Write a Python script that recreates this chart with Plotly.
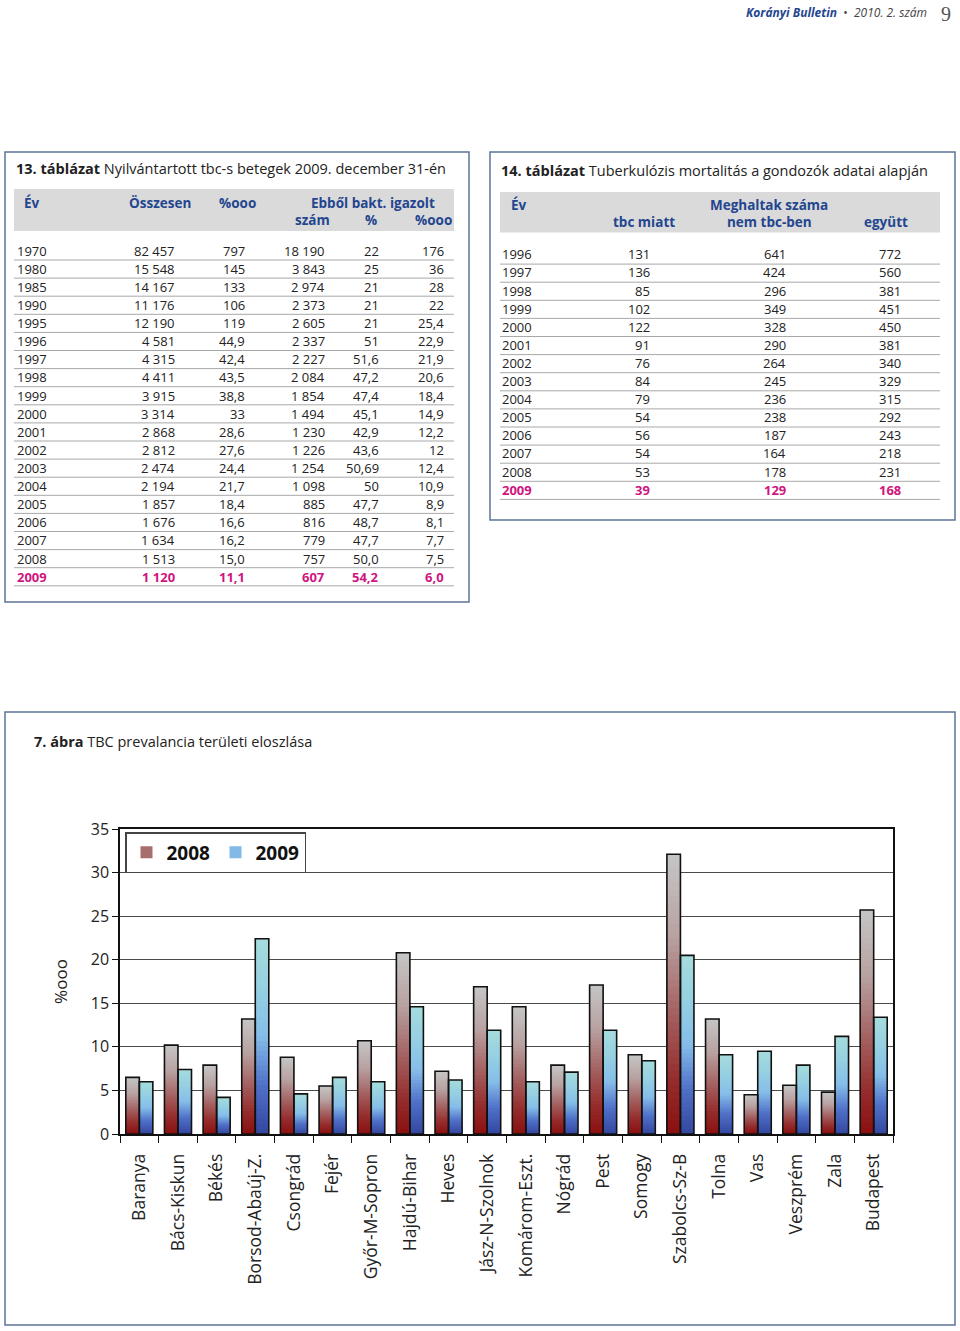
import plotly.graph_objects as go

# ---------------- data ----------------
counties = ["Baranya", "Bács-Kiskun", "Békés", "Borsod-Abaúj-Z.", "Csongrád", "Fejér",
            "Győr-M-Sopron", "Hajdú-Bihar", "Heves", "Jász-N-Szolnok", "Komárom-Eszt.",
            "Nógrád", "Pest", "Somogy", "Szabolcs-Sz-B", "Tolna", "Vas", "Veszprém",
            "Zala", "Budapest"]
prev_2008 = [6.5, 10.2, 7.9, 13.2, 8.8, 5.5, 10.7, 20.8, 7.2, 16.9, 14.6,
             7.9, 17.1, 9.1, 32.1, 13.2, 4.5, 5.6, 4.8, 25.7]
prev_2009 = [6.0, 7.4, 4.2, 22.4, 4.6, 6.5, 6.0, 14.6, 6.2, 11.9, 6.0,
             7.1, 11.9, 8.4, 20.5, 9.1, 9.5, 7.9, 11.2, 13.4]
y_ticks = [0, 5, 10, 15, 20, 25, 30, 35]

t13_years = ["1970", "1980", "1985", "1990", "1995", "1996", "1997", "1998", "1999", "2000",
             "2001", "2002", "2003", "2004", "2005", "2006", "2007", "2008", "2009"]
t13_total = ["82 457", "15 548", "14 167", "11 176", "12 190", "4 581", "4 315", "4 411",
             "3 915", "3 314", "2 868", "2 812", "2 474", "2 194", "1 857", "1 676",
             "1 634", "1 513", "1 120"]
t13_rate = ["797", "145", "133", "106", "119", "44,9", "42,4", "43,5", "38,8", "33",
            "28,6", "27,6", "24,4", "21,7", "18,4", "16,6", "16,2", "15,0", "11,1"]
t13_bact_n = ["18 190", "3 843", "2 974", "2 373", "2 605", "2 337", "2 227", "2 084",
              "1 854", "1 494", "1 230", "1 226", "1 254", "1 098", "885", "816", "779",
              "757", "607"]
t13_bact_pct = ["22", "25", "21", "21", "21", "51", "51,6", "47,2", "47,4", "45,1", "42,9",
                "43,6", "50,69", "50", "47,7", "48,7", "47,7", "50,0", "54,2"]
t13_bact_rate = ["176", "36", "28", "22", "25,4", "22,9", "21,9", "20,6", "18,4", "14,9",
                 "12,2", "12", "12,4", "10,9", "8,9", "8,1", "7,7", "7,5", "6,0"]

t14_years = ["1996", "1997", "1998", "1999", "2000", "2001", "2002", "2003", "2004",
             "2005", "2006", "2007", "2008", "2009"]
t14_tbc = [131, 136, 85, 102, 122, 91, 76, 84, 79, 54, 56, 54, 53, 39]
t14_other = [641, 424, 296, 349, 328, 290, 264, 245, 236, 238, 187, 164, 178, 129]
t14_total = [772, 560, 381, 451, 450, 381, 340, 329, 315, 292, 243, 218, 231, 168]

# ---------------- style ----------------
W, H = 960, 1331
FONT = "Open Sans"
TXT = "#222222"
BLUE = "#23468f"
MAGENTA = "#d0157f"
PANEL = "#5d7496"
HEADBG = "#dadada"
ROWLINE = "#a8a8a8"

grad_2008 = [(0.0, (139, 15, 15)), (0.2, (150, 46, 46)), (0.45, (165, 101, 101)),
             (0.7, (184, 160, 160)), (1.0, (198, 198, 198))]
grad_2009 = [(0.0, (52, 71, 159)), (0.25, (79, 112, 200)), (0.5, (133, 189, 233)),
             (0.75, (150, 208, 226)), (1.0, (165, 220, 220))]


def px(x):
    return x / W


def py(y):
    return 1 - y / H


def interp(stops, t):
    for (t0, c0), (t1, c1) in zip(stops[:-1], stops[1:]):
        if t0 <= t <= t1:
            f = (t - t0) / (t1 - t0)
            c = [round(a + (b - a) * f) for a, b in zip(c0, c1)]
            return "rgb(%d,%d,%d)" % tuple(c)
    c = stops[-1][1]
    return "rgb(%d,%d,%d)" % c


fig = go.Figure()

# gradient bars: painter's order, tallest (top colour) first
N = 40
for name, vals, stops in (("2008", prev_2008, grad_2008), ("2009", prev_2009, grad_2009)):
    for k in range(N):
        frac = (N - k) / N
        col = interp(stops, (N - k - 0.5) / N)
        fig.add_trace(go.Bar(
            x=counties, y=[v * frac for v in vals], name=name,
            offsetgroup=name, legendgroup=name,
            showlegend=(k == N // 2),
            marker=dict(color=col, line=dict(width=0)),
            hoverinfo="skip"))
for name, vals in (("2008", prev_2008), ("2009", prev_2009)):
    fig.add_trace(go.Bar(
        x=counties, y=vals, name=name, offsetgroup=name, legendgroup=name,
        showlegend=False,
        marker=dict(color="rgba(0,0,0,0)", line=dict(color="#111111", width=1.6))))

ann = []
shapes = []


def text(t, x, y, anchor="left", size=13, color=TXT, bold=False, family=FONT):
    s = "<b>%s</b>" % t if bold else t
    ann.append(dict(text=s, x=px(x), y=py(y), xref="paper", yref="paper",
                    xanchor=anchor, yanchor="middle", showarrow=False,
                    font=dict(family=family, size=size, color=color)))


def rect(x0, y0, x1, y1, line=None, fill=None, width=1.5):
    shapes.append(dict(type="rect", xref="paper", yref="paper",
                       x0=px(x0), x1=px(x1), y0=py(y1), y1=py(y0),
                       line=dict(color=line or "rgba(0,0,0,0)", width=width if line else 0),
                       fillcolor=fill or "rgba(0,0,0,0)", layer="below"))


def hline(x0, x1, y, color=ROWLINE, width=1):
    shapes.append(dict(type="line", xref="paper", yref="paper",
                       x0=px(x0), x1=px(x1), y0=py(y), y1=py(y),
                       line=dict(color=color, width=width), layer="below"))


# page header
text("<b><i>Korányi Bulletin</i></b>  <span style='color:#444'>•</span>  "
     "<span style='color:#444'><i>2010. 2. szám</i></span>",
     929, 12, anchor="right", size=12, color=BLUE)
text("9", 953, 14, anchor="right", size=20, color="#555555", family="Liberation Serif")

HS = 13.5  # header font size
TS = 14.5  # title font size

# ---------- table 13 ----------
rect(5, 152, 469, 602, line=PANEL)
text("<b>13. táblázat</b> Nyilvántartott tbc-s betegek 2009. december 31-én", 14, 168, size=TS)
rect(14, 189, 454, 231, fill=HEADBG)
text("Év", 22, 203, bold=True, color=BLUE, size=HS)
text("Összesen", 159.5, 203, anchor="center", bold=True, color=BLUE, size=HS)
text("%ooo", 237, 203, anchor="center", bold=True, color=BLUE, size=HS)
text("Ebből bakt. igazolt", 373, 203, anchor="center", bold=True, color=BLUE, size=HS)
text("szám", 312, 220.5, anchor="center", bold=True, color=BLUE, size=HS)
text("%", 371, 220.5, anchor="center", bold=True, color=BLUE, size=HS)
text("%ooo", 433, 220.5, anchor="center", bold=True, color=BLUE, size=HS)

cols13 = [(t13_total, 177), (t13_rate, 246.5), (t13_bact_n, 326.5),
          (t13_bact_pct, 381), (t13_bact_rate, 445.5)]
for i, yr in enumerate(t13_years):
    yc = 250.8 + i * 18.1
    last = i == len(t13_years) - 1
    col = MAGENTA if last else TXT
    text(yr, 14.5, yc, color=col, bold=last)
    for arr, xr in cols13:
        text(arr[i], xr, yc, anchor="right", color=col, bold=last)
    hline(14, 454, yc + 9.2)

# ---------- table 14 ----------
rect(490, 152, 955, 520, line=PANEL)
text("<b>14. táblázat</b> Tuberkulózis mortalitás a gondozók adatai alapján", 499, 170.5, size=TS)
rect(500, 192, 940, 232.5, fill=HEADBG)
text("Év", 509, 205, bold=True, color=BLUE, size=HS)
text("Meghaltak száma", 769, 205, anchor="center", bold=True, color=BLUE, size=HS)
text("tbc miatt", 643.5, 222.5, anchor="center", bold=True, color=BLUE, size=HS)
text("nem tbc-ben", 769, 222.5, anchor="center", bold=True, color=BLUE, size=HS)
text("együtt", 885.5, 222.5, anchor="center", bold=True, color=BLUE, size=HS)

cols14 = [(t14_tbc, 652), (t14_other, 787.5), (t14_total, 902.5)]
for i, yr in enumerate(t14_years):
    yc = 254.3 + i * 18.1
    last = i == len(t14_years) - 1
    col = MAGENTA if last else TXT
    text(yr, 500, yc, color=col, bold=last)
    for arr, xr in cols14:
        text(str(arr[i]), xr, yc, anchor="right", color=col, bold=last)
    hline(500, 940, yc + 9.8)

# ---------- figure 7 ----------
rect(5, 712, 955, 1325, line=PANEL)
text("<b>7. ábra</b> TBC prevalancia területi eloszlása", 32, 741, size=TS)

fig.update_layout(
    width=W, height=H, margin=dict(l=0, r=0, t=0, b=0),
    paper_bgcolor="white", plot_bgcolor="white",
    barmode="group", bargap=0.3, bargroupgap=0,
    font=dict(family=FONT, color=TXT),
    showlegend=True,
    legend=dict(orientation="h", x=px(125), y=py(832), xanchor="left", yanchor="top",
                bordercolor="#444444", borderwidth=1.5, bgcolor="white",
                font=dict(family=FONT, size=19, color="#111111", weight="bold"),
                traceorder="normal", entrywidth=44, entrywidthmode="pixels"),
    annotations=ann, shapes=shapes,
    xaxis=dict(domain=[px(120), px(893)], type="category",
               tickangle=-90, tickfont=dict(family=FONT, size=17.5, color=TXT),
               ticks="outside", tickson="boundaries", ticklen=7, tickcolor="#111111",
               showline=True, linecolor="#111111", linewidth=1.5, mirror=True,
               showgrid=False, automargin=False, ticklabelstandoff=11),
    yaxis=dict(domain=[py(1134), py(829)], range=[0, 35], tickvals=y_ticks,
               tickfont=dict(family=FONT, size=16, color=TXT),
               ticks="outside", ticklen=6, tickcolor="#111111",
               showline=True, linecolor="#111111", linewidth=1.5, mirror=True,
               showgrid=True, gridcolor="#4a4a4a", gridwidth=1.3, zeroline=False,
               automargin=False,
               title=dict(text="%ooo", font=dict(family=FONT, size=17, color=TXT), standoff=19)),
)

fig.write_html("out.html", config={"displayModeBar": False},
               post_script="document.body.style.margin='0';")
